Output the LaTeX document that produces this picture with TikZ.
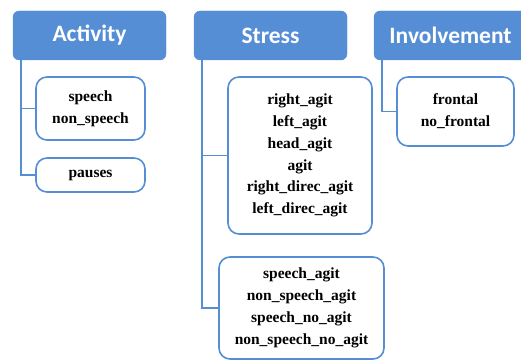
\documentclass[tikz,border=0pt]{standalone}
\usepackage{fontspec}
\setmainfont{Liberation Serif}
\newfontfamily\hdrfont{Carlito}
\usetikzlibrary{positioning}
\definecolor{hdrblue}{RGB}{85,142,213}
\begin{document}
\begin{tikzpicture}[x=1pt, y=1pt, hdr/.style={rectangle, rounded corners=6pt, fill=hdrblue, draw=hdrblue, text=white, minimum height=49pt, minimum width=153pt, font=\hdrfont\bfseries\fontsize{23.5}{26}\selectfont}, leaf/.style={rectangle, rounded corners=11pt, draw=hdrblue, line width=1.6pt, fill=white, align=center, inner sep=0pt, font=\bfseries\fontsize{15.5}{21.8}\selectfont}, link/.style={draw=hdrblue, line width=1.6pt}]
		\useasboundingbox (0,0) rectangle (521,362); \clip (0,0) rectangle (521,362);
		\node[hdr] (act) at (89.5,326.5) {Activity}; \node[hdr] (str) at (270.5,326.5) {Stress}; \node[hdr] (inv) at (450.5,326.5) {Involvement};
		\node[leaf, minimum width=109pt, minimum height=63pt] (speech) at (90.5,253.5) {speech\\non\_speech};
		\node[leaf, minimum width=109pt, minimum height=34pt] (pauses) at (90.5,187) {pauses};
		\node[leaf, minimum width=144pt, minimum height=157pt] (agit) at (300,206.5) {right\_agit\\left\_agit\\head\_agit\\agit\\right\_direc\_agit\\left\_direc\_agit};
		\node[leaf, minimum width=165pt, minimum height=102pt] (mixed) at (301.5,54) {speech\_agit\\non\_speech\_agit\\speech\_no\_agit\\non\_speech\_no\_agit};
		\node[leaf, minimum width=117pt, minimum height=69pt] (front) at (455.5,250.5) {frontal\\no\_frontal};
		\draw[link] ([xshift=8pt]act.south west) |- (speech.west); \draw[link] ([xshift=8pt]act.south west) |- (pauses.west);
		\draw[link] ([xshift=8pt]str.south west) |- (agit.west); \draw[link] ([xshift=8pt]str.south west) |- (mixed.west);
		\draw[link] ([xshift=8pt]inv.south west) |- (front.west);
	\end{tikzpicture}
\end{document}
